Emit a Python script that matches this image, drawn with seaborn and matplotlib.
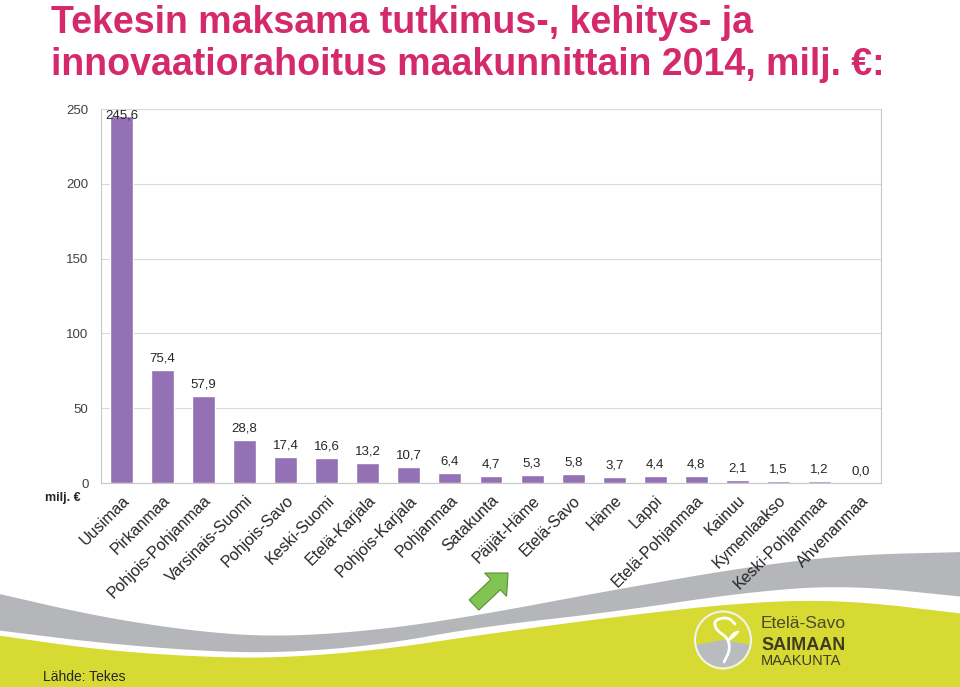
import numpy as np
import pandas as pd
import matplotlib
matplotlib.use("Agg")
from matplotlib import pyplot as plt
from matplotlib.patches import FancyArrow, Ellipse, Wedge
import seaborn as sns

# Data
regions = ["Uusimaa", "Pirkanmaa", "Pohjois-Pohjanmaa", "Varsinais-Suomi", "Pohjois-Savo",
           "Keski-Suomi", "Etelä-Karjala", "Pohjois-Karjala", "Pohjanmaa", "Satakunta",
           "Päijät-Häme", "Etelä-Savo", "Häme", "Lappi", "Etelä-Pohjanmaa", "Kainuu",
           "Kymenlaakso", "Keski-Pohjanmaa", "Ahvenanmaa"]
funding = [245.6, 75.4, 57.9, 28.8, 17.4, 16.6, 13.2, 10.7, 6.4, 4.7,
           5.3, 5.8, 3.7, 4.4, 4.8, 2.1, 1.5, 1.2, 0.0]
yticks = [0, 50, 100, 150, 200, 250]

title1 = "Tekesin maksama tutkimus-, kehitys- ja"
title2 = "innovaatiorahoitus maakunnittain 2014, milj. €:"

sns.set_style("white")
plt.rcParams['font.family'] = ['Liberation Sans', 'DejaVu Sans']

W, H = 960, 687
fig = plt.figure(figsize=(W / 100, H / 100), dpi=100)

# background decoration (pixel coords)
bg = fig.add_axes([0, 0, 1, 1], zorder=-1)
bg.set_xlim(0, W)
bg.set_ylim(H, 0)
bg.axis("off")


def smooth(pts, n=4):
    # chaikin smoothing for the swoosh shapes
    pts = np.asarray(pts, float)
    for _ in range(n):
        q = 0.75 * pts[:-1] + 0.25 * pts[1:]
        r = 0.25 * pts[:-1] + 0.75 * pts[1:]
        new = np.empty((len(q) * 2, 2))
        new[0::2] = q
        new[1::2] = r
        pts = np.vstack([pts[0], new, pts[-1]])
    return pts


gray_top = smooth([(-5, 593), (100, 617), (200, 632), (280, 637), (380, 630), (480, 615),
                   (613, 590), (747, 567), (847, 555), (965, 552)])
gray_bot = smooth([(-5, 630), (100, 643), (200, 651), (280, 653), (380, 645), (480, 627),
                   (613, 612), (747, 592), (847, 585), (965, 597)])
yel_top = smooth([(-5, 635), (100, 650), (200, 657), (280, 658), (380, 650), (480, 635),
                  (613, 617), (747, 602), (847, 600), (965, 614)])

gray_poly = np.vstack([gray_top, gray_bot[::-1]])
bg.fill(gray_poly[:, 0], gray_poly[:, 1], color="#b4b6b9", lw=0)
yel_poly = np.vstack([yel_top, [(965, 700), (-5, 700)]])
bg.fill(yel_poly[:, 0], yel_poly[:, 1], color="#d6da33", lw=0)

# logo
bg.add_patch(Wedge((723, 640), 27, 10, 170, facecolor="#b9bcbf", edgecolor="none"))
bg.add_patch(Ellipse((723, 640), 56, 57, facecolor="none", edgecolor="#f2f2f2", lw=1.5))
s_curve = smooth([(735, 624), (728, 617), (714, 620), (716, 630), (728, 638),
                  (730, 650), (724, 662)], 3)
bg.plot(s_curve[:, 0], s_curve[:, 1], color="white", lw=2, solid_capstyle="round")
leaf = smooth([(727, 640), (733, 632), (741, 630), (735, 637), (728, 642)], 2)
bg.fill(leaf[:, 0], leaf[:, 1], color="white", lw=0)
bg.text(761, 623, "Etelä-Savo", fontsize=12.5, color="#4d4a2e", va="center")
bg.text(761, 645, "SAIMAAN", fontsize=13, color="#3f3c24", fontweight="bold", va="center")
bg.text(761, 661, "MAAKUNTA", fontsize=10.5, color="#3f3c24", va="center")

# arrow pointing at Etelä-Savo
bg.add_patch(FancyArrow(474, 605, 34, -32, width=14, head_width=32, head_length=17,
                        length_includes_head=True, facecolor="#80c451", edgecolor="#5a8f36", lw=0.8))

# titles and notes
bg.text(51, 33, title1, fontsize=27, fontweight="bold", color="#d42a6b")
bg.text(51, 75, title2, fontsize=27, fontweight="bold", color="#d42a6b")
bg.text(45, 498, "milj. €", fontsize=9, fontweight="bold", va="center")
bg.text(43, 677, "Lähde: Tekes", fontsize=10, va="center")

# chart
ax = fig.add_axes([101 / W, 1 - 483 / H, 780 / W, 374 / H])
df = pd.DataFrame({"region": regions, "value": funding})
sns.barplot(data=df, x="region", y="value", color="#9470b4", saturation=1,
            width=0.56, ax=ax, zorder=3)
ax.set_xlim(-0.5, len(regions) - 0.5)
ax.set_ylim(0, 250)
ax.set_yticks(yticks)
ax.set_yticklabels([str(t) for t in yticks], fontsize=9.5, color="#404040")
ax.tick_params(axis="y", length=0, pad=9)
ax.tick_params(axis="x", length=0, pad=7)
ax.set_xlabel("")
ax.set_ylabel("")
ax.grid(axis="y", color="#d9d9d9", lw=0.8, zorder=0)
for s in ["left", "right", "bottom"]:
    ax.spines[s].set_color("#c8c8c8")
ax.spines["top"].set_visible(False)
ax.set_xticks(range(len(regions)))
ax.set_xticklabels(regions, rotation=45, ha="right", va="top", rotation_mode="anchor",
                   fontsize=11.5)
for i, v in enumerate(funding):
    label = f"{v:.1f}".replace(".", ",")
    if v > 230:
        # label kept inside the plot area like in the original
        ax.text(i, 250, label, ha="center", va="top", fontsize=9.5, zorder=5)
    else:
        ax.annotate(label, (i, v), xytext=(0, 4), textcoords="offset points",
                    ha="center", va="bottom", fontsize=9.5, zorder=5)

fig.savefig("out.png", dpi=100)
